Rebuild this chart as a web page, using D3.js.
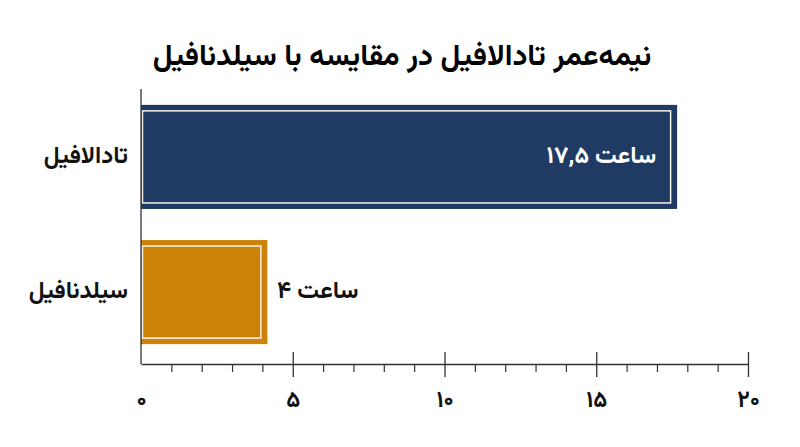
<!DOCTYPE html>
<html>
<head>
<meta charset="utf-8">
<script src="https://cdn.jsdelivr.net/npm/d3@7"></script>
<style>
  body { margin: 0; background: #fff; }
  text { font-family: "Vazirmatn", "Noto Sans Arabic", "Noto Naskh Arabic", "DejaVu Sans", sans-serif; font-weight: bold; }
</style>
</head>
<body>
<div id="chart"></div>
<script>
// chart data
var categories = ["تادالافیل", "سیلدنافیل"];
var values = [17.5, 4];
var valueLabels = ["۱۷,۵ ساعت", "۴ ساعت"];
var barColors = ["#1f3a63", "#cc8209"];
var tickValues = [0, 5, 10, 15, 20];
var tickLabels = ["۰", "۵", "۱۰", "۱۵", "۲۰"];
var titleText = "نیمه‌عمر تادالافیل در مقایسه با سیلدنافیل";

var svgWidth = 800, svgHeight = 447;
var axisY = 364;

var svg = d3.select("#chart").append("svg")
    .attr("width", svgWidth)
    .attr("height", svgHeight);

// scales
var xScale = d3.scaleLinear().domain([0, 20]).range([141, 748]);
var yScale = d3.scaleBand().domain(categories).range([90, 359])
    .paddingInner(0.23).paddingOuter(0.11);

// title
svg.append("text")
    .attr("x", 402)
    .attr("y", 57)
    .attr("text-anchor", "middle")
    .attr("dominant-baseline", "middle")
    .style("font-size", "30px")
    .text(titleText);

// bars
var bars = svg.selectAll(".bar")
    .data(values)
    .enter().append("g");

bars.append("rect")
    .attr("x", xScale(0))
    .attr("y", (d, i) => yScale(categories[i]))
    .attr("width", d => xScale(d) - xScale(0) + 5)
    .attr("height", yScale.bandwidth())
    .attr("fill", (d, i) => barColors[i]);

// inner white frame
bars.append("rect")
    .attr("x", xScale(0) + 1.5)
    .attr("y", (d, i) => yScale(categories[i]) + 6)
    .attr("width", d => xScale(d) - xScale(0) - 3)
    .attr("height", yScale.bandwidth() - 12)
    .attr("fill", "none")
    .attr("stroke", "#f4f1ea")
    .attr("stroke-width", 1.5);

// value labels
svg.append("text")
    .attr("x", xScale(values[0]) - 16)
    .attr("y", yScale(categories[0]) + yScale.bandwidth() / 2)
    .attr("text-anchor", "end")
    .attr("dominant-baseline", "middle")
    .attr("fill", "#fff")
    .style("font-size", "24px")
    .text(valueLabels[0]);

svg.append("text")
    .attr("x", xScale(values[1]) + 96)
    .attr("y", yScale(categories[1]) + yScale.bandwidth() / 2)
    .attr("text-anchor", "end")
    .attr("dominant-baseline", "middle")
    .attr("fill", "#111")
    .style("font-size", "24px")
    .text(valueLabels[1]);

// category labels
svg.selectAll(".cat")
    .data(categories)
    .enter().append("text")
    .attr("x", 128)
    .attr("y", d => yScale(d) + yScale.bandwidth() / 2)
    .attr("text-anchor", "end")
    .attr("dominant-baseline", "middle")
    .attr("fill", "#111")
    .style("font-size", "24px")
    .text(d => d);

// vertical axis line
svg.append("line")
    .attr("x1", xScale(0)).attr("x2", xScale(0))
    .attr("y1", 89).attr("y2", axisY)
    .attr("stroke", "#333").attr("stroke-width", 1.3);

// minor ticks
var minorAxis = d3.axisBottom(xScale)
    .tickValues(d3.range(0, 21).filter(v => v % 5 !== 0))
    .tickSize(8)
    .tickSizeOuter(0)
    .tickFormat("");
svg.append("g")
    .attr("transform", `translate(0,${axisY})`)
    .call(minorAxis)
    .call(g => g.select(".domain").remove())
    .selectAll("line").attr("stroke", "#333").attr("stroke-width", 1.2);

// major axis
var majorAxis = d3.axisBottom(xScale)
    .tickValues(tickValues)
    .tickSize(13)
    .tickSizeOuter(0)
    .tickPadding(14)
    .tickFormat((d, i) => tickLabels[i]);
var xAxisG = svg.append("g")
    .attr("transform", `translate(0,${axisY})`)
    .call(majorAxis);
xAxisG.select(".domain").attr("stroke", "#333").attr("stroke-width", 1.3);
xAxisG.selectAll(".tick line")
    .attr("y1", -12)
    .attr("stroke", "#333").attr("stroke-width", 1.3);
xAxisG.selectAll(".tick")
    .filter(d => d === 0)
    .select("line").remove();
xAxisG.selectAll(".tick text")
    .attr("fill", "#111")
    .style("font-size", "23px")
    .style("font-family", "'Vazirmatn', 'Noto Sans Arabic', 'DejaVu Sans', sans-serif")
    .style("font-weight", "bold");
</script>
</body>
</html>
